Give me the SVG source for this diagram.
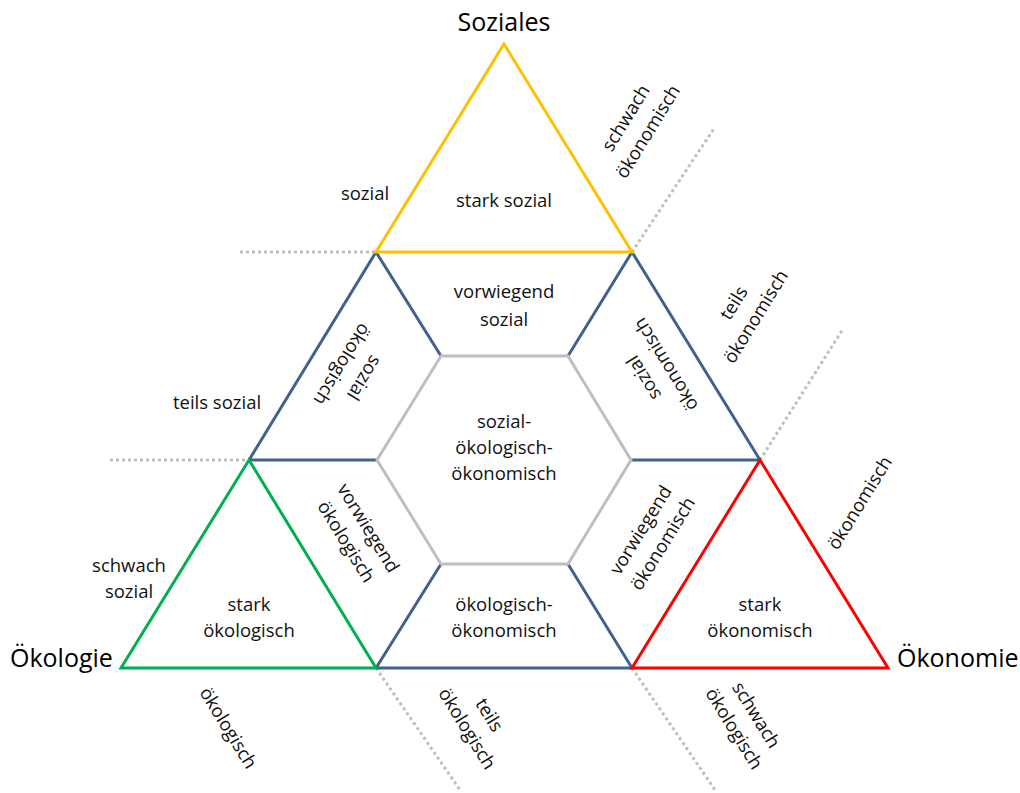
<svg xmlns="http://www.w3.org/2000/svg" width="1020" height="793" viewBox="0 0 1020 793">
<style>
.t{font-family:"Open Sans","Liberation Sans",sans-serif;font-size:18.5px;fill:#111;text-anchor:middle}
.big{font-family:"Open Sans","Liberation Sans",sans-serif;font-size:25px;fill:#000}
.ln{fill:none;stroke-width:3;stroke-linejoin:miter}
.blue{stroke:#41628F}
.dot{stroke:#BFBFBF;stroke-width:3;stroke-dasharray:3 3;fill:none}
</style>
<rect width="1020" height="793" fill="#fff"/>
<g id="guides">
<path class="dot" d="M240,252H376M632,252L715,127M110,460H249M760,460L843,329M376,668L460,790M632,668L715,790"/>
</g>
<g id="connectors">
<path class="ln blue" d="M376,252L249,460M632,252L760,460M376,668H632M376,252L441,356M632,252L568,356M249,460H377M631,460H760M441,564L376,668M568,564L632,668"/>
</g>
<g id="hexagon">
<polygon class="ln" stroke="#BFBFBF" points="441,356 568,356 631,460 568,564 441,564 377,460"/>
<text class="t" x="504" y="428">sozial-</text>
<text class="t" x="504" y="454">ökologisch-</text>
<text class="t" x="504" y="480">ökonomisch</text>
</g>
<g id="soziales">
<polygon class="ln" stroke="#FFC000" points="504,44 376,252 632,252"/>
<text class="t" x="504" y="207">stark sozial</text>
</g>
<g id="oekologie">
<polygon class="ln" stroke="#00B050" points="249,460 121,668 376,668"/>
<text class="t" x="249" y="611">stark</text>
<text class="t" x="249" y="637">ökologisch</text>
</g>
<g id="oekonomie">
<polygon class="ln" stroke="#FF0000" points="760,460 632,668 888,668"/>
<text class="t" x="760" y="611">stark</text>
<text class="t" x="760" y="637">ökonomisch</text>
</g>
<g id="vorwiegend-sozial">
<text class="t" x="504" y="298">vorwiegend</text>
<text class="t" x="504" y="326">sozial</text>
</g>
<g id="oekologisch-oekonomisch">
<text class="t" x="504" y="611">ökologisch-</text>
<text class="t" x="504" y="637">ökonomisch</text>
</g>
<g id="sozial-oekologisch" transform="translate(353,371) rotate(121.4)">
<text class="t" x="0" y="-7">sozial</text>
<text class="t" x="0" y="19">ökologisch</text>
</g>
<g id="sozial-oekonomisch" transform="translate(655,371) rotate(-121.6)">
<text class="t" x="0" y="-7">sozial</text>
<text class="t" x="0" y="19">ökonomisch</text>
</g>
<g id="vorwiegend-oekologisch" transform="translate(357,535) rotate(58.4)">
<text class="t" x="0" y="-7">vorwiegend</text>
<text class="t" x="0" y="19">ökologisch</text>
</g>
<g id="vorwiegend-oekonomisch" transform="translate(652,537) rotate(-58.4)">
<text class="t" x="0" y="-7">vorwiegend</text>
<text class="t" x="0" y="19">ökonomisch</text>
</g>
<g id="corner-labels">
<text class="big" x="504" y="31" text-anchor="middle">Soziales</text>
<text class="big" x="10" y="667">Ökologie</text>
<text class="big" x="897" y="667">Ökonomie</text>
</g>
<g id="scale-labels">
<text class="t" x="365" y="200">sozial</text>
<text class="t" x="217" y="409">teils sozial</text>
<text class="t" x="129" y="572">schwach</text>
<text class="t" x="129" y="598">sozial</text>
<g transform="translate(637,125) rotate(-58.4)">
<text class="t" x="0" y="-7">schwach</text>
<text class="t" x="0" y="19">ökonomisch</text>
</g>
<g transform="translate(745,310) rotate(-58.4)">
<text class="t" x="0" y="-7">teils</text>
<text class="t" x="0" y="19">ökonomisch</text>
</g>
<g transform="translate(860,503) rotate(-58.4)">
<text class="t" x="0" y="6">ökonomisch</text>
</g>
<g transform="translate(228,728) rotate(58.4)">
<text class="t" x="0" y="6">ökologisch</text>
</g>
<g transform="translate(478,722) rotate(58.4)">
<text class="t" x="0" y="-7">teils</text>
<text class="t" x="0" y="19">ökologisch</text>
</g>
<g transform="translate(745,722) rotate(58.4)">
<text class="t" x="0" y="-7">schwach</text>
<text class="t" x="0" y="19">ökologisch</text>
</g>
</g>
</svg>
